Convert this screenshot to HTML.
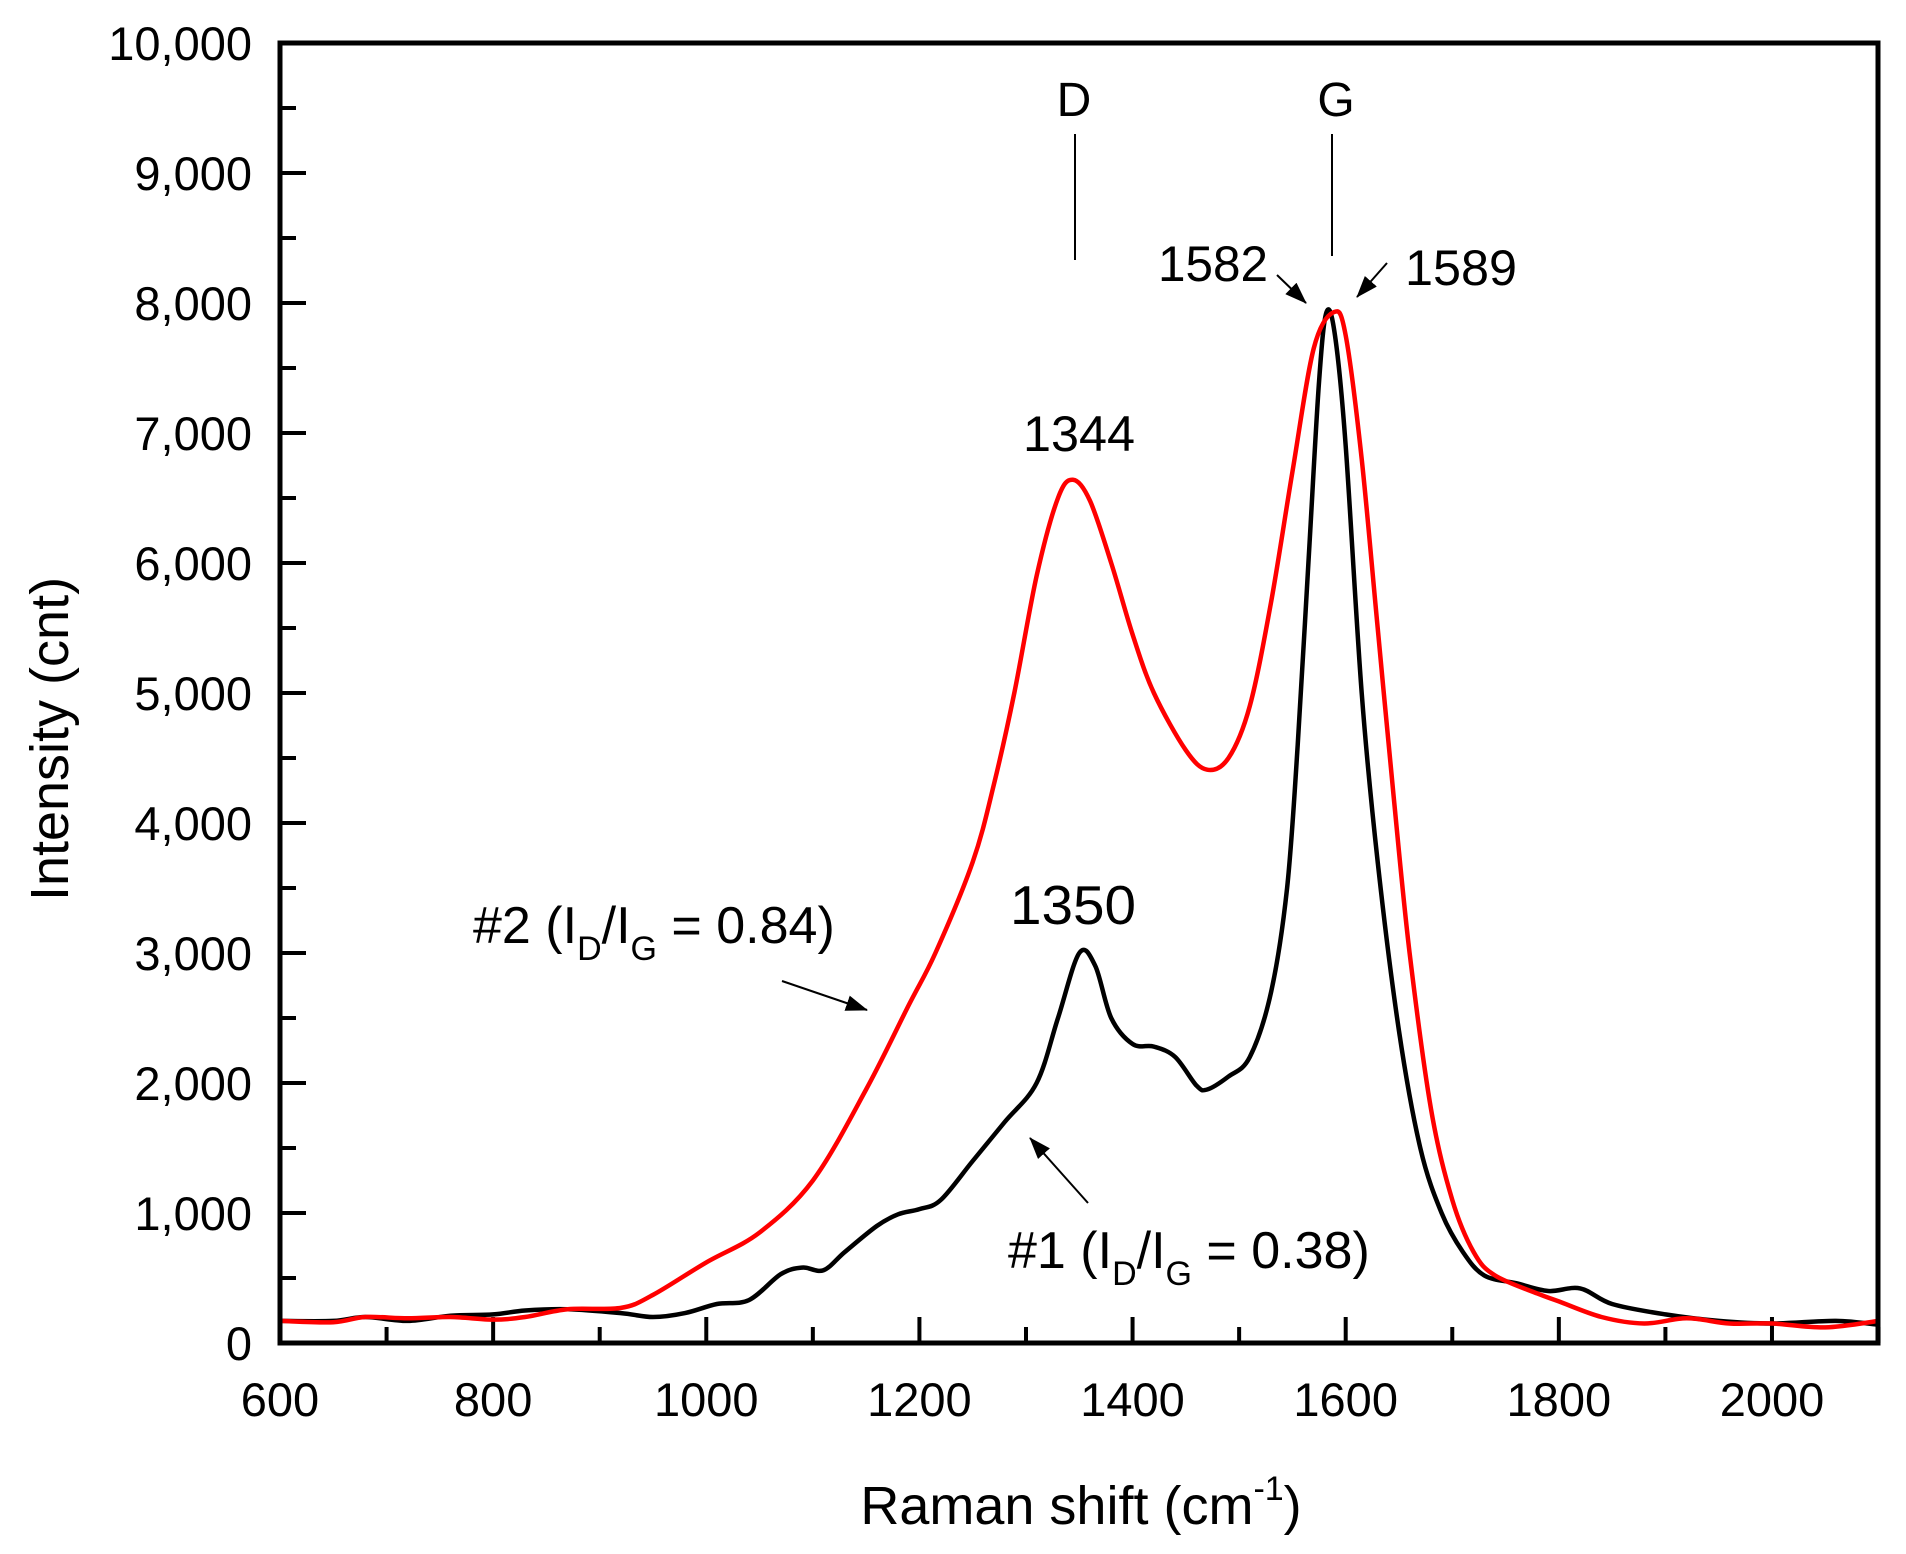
<!DOCTYPE html>
<html><head><meta charset="utf-8"><style>
html,body{margin:0;padding:0;background:#fff;}
svg{display:block;}
text{font-family:"Liberation Sans",Arial,sans-serif;fill:#000;}
</style></head><body>
<svg id="s" width="1906" height="1554" viewBox="0 0 1906 1554" xmlns="http://www.w3.org/2000/svg">
<defs>
<marker id="ah2" markerWidth="22" markerHeight="16" refX="21" refY="8" orient="auto" markerUnits="userSpaceOnUse" viewBox="0 0 22 16">
<path d="M0,0 L22,8 L0,16 z" fill="#000"/></marker>
</defs>
<g id="ticks" stroke="#000" stroke-width="4"></g>
<path id="black" fill="none" stroke="#000" stroke-width="4.5" stroke-linejoin="round"/>
<path id="red" fill="none" stroke="#f00" stroke-width="4.5" stroke-linejoin="round"/>
<rect x="280" y="43" width="1598" height="1300" fill="none" stroke="#000" stroke-width="5"/>
<g id="labels" font-size="47" text-anchor="end"></g>
<text x="1074" y="116" font-size="48" text-anchor="middle">D</text>
<text x="1336" y="116" font-size="48" text-anchor="middle">G</text>
<line x1="1075" y1="134" x2="1075" y2="260" stroke="#000" stroke-width="2"/>
<line x1="1332" y1="134" x2="1332" y2="256" stroke="#000" stroke-width="2"/>
<text x="1158" y="281" font-size="50" textLength="110" lengthAdjust="spacingAndGlyphs">1582</text>
<text x="1405" y="285" font-size="50" textLength="112" lengthAdjust="spacingAndGlyphs">1589</text>
<line x1="1277" y1="275" x2="1306" y2="303" stroke="#000" stroke-width="2" marker-end="url(#ah2)"/>
<line x1="1387" y1="263" x2="1357" y2="297" stroke="#000" stroke-width="2" marker-end="url(#ah2)"/>
<text x="1079" y="451" font-size="50" text-anchor="middle" textLength="112" lengthAdjust="spacingAndGlyphs">1344</text>
<text x="1073" y="924" font-size="55" text-anchor="middle" textLength="126" lengthAdjust="spacingAndGlyphs">1350</text>
<text x="473" y="943" font-size="52">#2 (I<tspan font-size="34" dy="17">D</tspan><tspan dy="-17">/I</tspan><tspan font-size="34" dy="17">G</tspan><tspan dy="-17"> = 0.84)</tspan></text>
<line x1="782" y1="981" x2="867" y2="1010" stroke="#000" stroke-width="2" marker-end="url(#ah2)"/>
<text x="1008" y="1268" font-size="52">#1 (I<tspan font-size="34" dy="17">D</tspan><tspan dy="-17">/I</tspan><tspan font-size="34" dy="17">G</tspan><tspan dy="-17"> = 0.38)</tspan></text>
<line x1="1088" y1="1203" x2="1030" y2="1138" stroke="#000" stroke-width="2" marker-end="url(#ah2)"/>
<text transform="translate(68,739) rotate(-90)" font-size="54" text-anchor="middle">Intensity (cnt)</text>
<text x="1081" y="1524" font-size="54" text-anchor="middle">Raman shift (cm<tspan font-size="34" dy="-24">-1</tspan><tspan dy="24">)</tspan></text>
</svg>
<script>
var NS="http://www.w3.org/2000/svg";
function X(v){return 280+(v-600)*1.0657;}
function Y(i){return 1343-i*0.13;}
var t=document.getElementById("ticks"),L=document.getElementById("labels");
function ln(x1,y1,x2,y2){var l=document.createElementNS(NS,"line");l.setAttribute("x1",x1);l.setAttribute("y1",y1);l.setAttribute("x2",x2);l.setAttribute("y2",y2);t.appendChild(l);}
function tx(x,y,s,a){var e=document.createElementNS(NS,"text");e.setAttribute("x",x);e.setAttribute("y",y);e.setAttribute("text-anchor",a);e.textContent=s;L.appendChild(e);}
for(var i=0;i<=10000;i+=500){var y=Y(i),maj=i%1000==0;ln(280,y,280+(maj?26:16),y);
 if(maj){tx(252,y+17,i.toLocaleString("en-US"),"end");}}
for(var v=600;v<=2100;v+=100){var x=X(v),maj=v%200==0;ln(x,1343,x,1343-(maj?26:16));
 if(maj)tx(x,1416,String(v),"middle");}
var red=[[600,170],[650,160],[680,200],[720,190],[760,200],[800,180],[830,200],[870,260],[920,270],[950,370],[1000,620],[1050,850],[1100,1250],[1150,1950],[1190,2600],[1215,3000],[1250,3700],[1270,4300],[1289,5000],[1310,5900],[1330,6500],[1344,6640],[1360,6480],[1380,6000],[1400,5450],[1420,5000],[1450,4560],[1470,4410],[1490,4500],[1510,4900],[1530,5700],[1550,6700],[1570,7650],[1589,7930],[1600,7750],[1615,6800],[1630,5500],[1645,4200],[1660,3000],[1680,1800],[1700,1100],[1720,700],[1740,520],[1780,380],[1800,320],[1840,200],[1880,150],[1920,190],[1960,150],[2000,150],[2050,120],[2100,170]];
var blk=[[600,170],[650,170],[680,200],[720,170],[760,210],[800,220],[830,250],[870,260],[920,230],[950,200],[980,230],[1010,300],[1040,330],[1070,530],[1090,580],[1110,560],[1130,700],[1160,900],[1180,990],[1200,1030],[1220,1100],[1250,1400],[1280,1700],[1310,2000],[1330,2500],[1350,3000],[1365,2900],[1380,2500],[1400,2300],[1420,2280],[1440,2200],[1460,1980],[1470,1950],[1490,2050],[1510,2200],[1530,2700],[1545,3500],[1555,4600],[1565,6000],[1575,7400],[1582,7930],[1590,7750],[1600,6900],[1615,5000],[1630,3700],[1650,2400],[1670,1500],[1690,1000],[1710,700],[1730,520],[1760,460],[1790,400],[1820,420],[1850,300],[1900,220],[1950,170],[2000,150],[2060,170],[2100,140]];
function path(d){var p=d.map(function(a){return [X(a[0]),Y(a[1])];});var s="M"+p[0][0].toFixed(1)+","+p[0][1].toFixed(1);
 for(var i=0;i<p.length-1;i++){var p0=p[Math.max(0,i-1)],p1=p[i],p2=p[i+1],p3=p[Math.min(p.length-1,i+2)];
 var c1x=p1[0]+(p2[0]-p0[0])/6,c1y=p1[1]+(p2[1]-p0[1])/6,c2x=p2[0]-(p3[0]-p1[0])/6,c2y=p2[1]-(p3[1]-p1[1])/6;
 s+=" C"+c1x.toFixed(1)+","+c1y.toFixed(1)+" "+c2x.toFixed(1)+","+c2y.toFixed(1)+" "+p2[0].toFixed(1)+","+p2[1].toFixed(1);}
 return s;}
document.getElementById("red").setAttribute("d",path(red));
document.getElementById("black").setAttribute("d",path(blk));
</script>
</body></html>
